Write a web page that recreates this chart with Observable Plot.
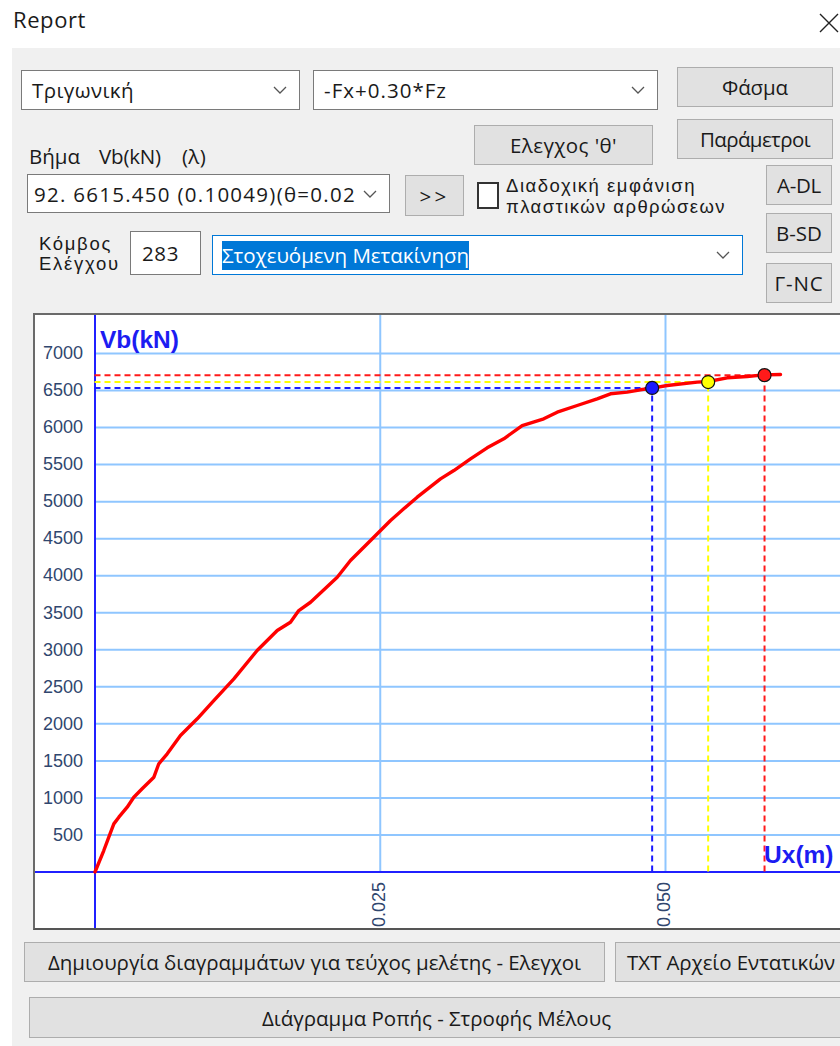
<!DOCTYPE html>
<html><head><meta charset="utf-8">
<script src="https://cdn.jsdelivr.net/npm/d3@7"></script>
<script src="https://cdn.jsdelivr.net/npm/@observablehq/plot@0.6"></script>
<style>
html,body{margin:0;padding:0;width:840px;height:1046px;overflow:hidden;background:#fff;}
body{position:relative;font-family:"Open Sans","Noto Sans",sans-serif;color:#1a1a1a;font-size:20.5px;}
.a{position:absolute;box-sizing:border-box;white-space:nowrap;}
.panel{left:12px;top:48px;width:840px;height:1000px;background:#f0f0f0;}
.combo{background:#fff;border:1px solid #7a7a7a;display:flex;align-items:center;padding-left:9px;}
.combo svg{position:absolute;right:12px;top:50%;margin-top:-4px;}
.btn{background:#e1e1e1;border:1px solid #adadad;display:flex;align-items:center;justify-content:center;}
.lbl{line-height:21px;}
.lbl2{font-family:"Liberation Sans",Arial,sans-serif;font-size:18.5px;line-height:20px;}
#chart{left:33px;top:313px;width:812px;height:617px;background:#fff;border-left:2px solid #6a6a6a;border-top:2px solid #6a6a6a;border-bottom:2px solid #555;}
#chart svg{display:block;}
</style></head>
<body>
<div class="a" style="left:13px;top:4px;font-size:22px;"><span data-w="73">Report</span></div>
<svg class="a" style="left:818px;top:12px" width="22" height="22"><path d="M2,2L20,20M20,2L2,20" stroke="#222" stroke-width="1.4"/></svg>
<div class="a panel"></div>

<div class="a combo" style="left:21px;top:70px;width:279px;height:40px;padding-left:10px;"><span data-w="102">Τριγωνική</span><svg width="14" height="9"><polyline points="1,1 7,7 13,1" fill="none" stroke="#555" stroke-width="1.3"/></svg></div>
<div class="a combo" style="left:313px;top:70px;width:345px;height:40px;padding-left:10px;"><span data-w="123">-Fx+0.30*Fz</span><svg width="14" height="9"><polyline points="1,1 7,7 13,1" fill="none" stroke="#555" stroke-width="1.3"/></svg></div>
<div class="a btn" style="left:677px;top:67px;width:156px;height:40px;"><span data-w="66">Φάσμα</span></div>
<div class="a btn" style="left:677px;top:119px;width:156px;height:40px;"><span data-w="110">Παράμετροι</span></div>
<div class="a btn" style="left:474px;top:125px;width:179px;height:40px;"><span data-w="107">Ελεγχος 'θ'</span></div>
<div class="a btn" style="left:766px;top:165px;width:66px;height:40px;"><span data-w="44">A-DL</span></div>
<div class="a btn" style="left:766px;top:213px;width:66px;height:40px;"><span data-w="46">B-SD</span></div>
<div class="a btn" style="left:766px;top:263px;width:66px;height:40px;"><span data-w="49">Γ-NC</span></div>

<div class="a lbl" style="left:29px;top:146px;"><span data-w="51">Βήμα</span></div>
<div class="a lbl" style="left:99px;top:146px;"><span data-w="62">Vb(kN)</span></div>
<div class="a lbl" style="left:182px;top:146px;"><span data-w="24">(λ)</span></div>
<div class="a combo" style="left:27px;top:174px;width:363px;height:39px;padding-left:6px;"><span data-w="322">92. 6615.450 (0.10049)(θ=0.02</span><svg width="14" height="9"><polyline points="1,1 7,7 13,1" fill="none" stroke="#555" stroke-width="1.3"/></svg></div>
<div class="a btn" style="left:405px;top:175px;width:59px;height:41px;"><span data-w="30">&gt;&gt;</span></div>
<div class="a" style="left:477px;top:182px;width:22px;height:27px;background:#fff;border:2px solid #333;"></div>
<div class="a lbl2" style="left:506px;top:176px;"><span data-w="190">Διαδοχική εμφάνιση</span></div>
<div class="a lbl2" style="left:506px;top:197px;"><span data-w="220">πλαστικών αρθρώσεων</span></div>

<div class="a lbl2" style="left:39px;top:233.5px;"><span data-w="73">Κόμβος</span></div>
<div class="a lbl2" style="left:39px;top:254.2px;"><span data-w="81">Ελέγχου</span></div>
<div class="a combo" style="left:130px;top:231px;width:71px;height:44px;padding-left:11px;"><span data-w="37">283</span></div>
<div class="a combo" style="left:212px;top:235px;width:531px;height:40px;border-color:#0078d7;padding-left:9px;"><span data-w="247" style="background:#0078d7;color:#fff;line-height:29px;">Στοχευόμενη Μετακίνηση</span><svg width="14" height="9"><polyline points="1,1 7,7 13,1" fill="none" stroke="#555" stroke-width="1.3"/></svg></div>

<div class="a" id="chart"></div>

<div class="a btn" style="left:24px;top:942px;width:581px;height:40px;"><span data-w="533">Δημιουργία διαγραμμάτων για τεύχος μελέτης - Ελεγχοι</span></div>
<div class="a btn" style="left:615px;top:942px;width:236px;height:40px;justify-content:flex-start;padding-left:11px;"><span data-w="208">TXT Αρχείο Εντατικών</span></div>
<div class="a btn" style="left:29px;top:997px;width:815px;height:41px;"><span data-w="349">Διάγραμμα Ροπής - Στροφής Μέλους</span></div>

<script>
// Capacity curve: top displacement Ux (m) vs base shear Vb (kN)
const ux = [0, 0.00077, 0.00121, 0.00165, 0.00209, 0.00282, 0.0034, 0.00413, 0.00516, 0.00559, 0.00633, 0.00749, 0.00896, 0.01041, 0.01217, 0.01421, 0.01597, 0.01713, 0.01786, 0.01889, 0.02123, 0.02239, 0.02415, 0.0259, 0.02706, 0.02824, 0.03028, 0.03145, 0.03291, 0.03437, 0.03583, 0.03744, 0.03933, 0.04051, 0.04226, 0.04401, 0.04518, 0.04664, 0.04781, 0.04883, 0.05015, 0.05278, 0.05374, 0.05541, 0.05716, 0.05868, 0.06008];
const vb = [0, 290, 470, 650, 740, 875, 1010, 1123, 1280, 1461, 1596, 1843, 2068, 2315, 2608, 2990, 3260, 3372, 3530, 3642, 3980, 4205, 4476, 4746, 4903, 5060, 5308, 5420, 5578, 5727, 5849, 6028, 6118, 6208, 6298, 6388, 6456, 6478, 6510, 6532, 6568, 6613, 6622, 6672, 6690, 6712, 6717];
// Marked points (performance levels)
const markUx = [0.04883, 0.05374, 0.05868];
const markVb = [6535, 6615, 6708];
const markColor = ["#1a1aff", "#ffff00", "#ff1a1a"];
// Ticks
const yTicks = [500, 1000, 1500, 2000, 2500, 3000, 3500, 4000, 4500, 5000, 5500, 6000, 6500, 7000];
const xTicks = [0.025, 0.050];
const xTickLabels = ["0.025", "0.050"];
const yTitle = "Vb(kN)";
const xTitle = "Ux(m)";

// fit UI label widths to the reference
document.querySelectorAll("[data-w]").forEach(el => {
  const w = el.getBoundingClientRect().width;
  const n = el.textContent.length;
  el.style.letterSpacing = ((+el.dataset.w - w) / n).toFixed(2) + "px";
});

const curve = ux.map((x, i) => ({x, y: vb[i]}));
const marks = markUx.map((x, i) => ({x, y: markVb[i], c: markColor[i]}));
const xt = xTicks.map((v, i) => ({v, t: xTickLabels[i]}));

const W = 810, H = 613;
const X0 = -0.005215, X1 = 0.065776, Y0 = -762.8, Y1 = 7513.2;
const grid = "#8fc6ff", axisC = "#2020ff";
const tickFont = {fontFamily: "Liberation Sans, Arial, sans-serif", fontSize: 18, fill: "#30466e"};

const chart = Plot.plot({
  width: W, height: H,
  marginTop: 0, marginRight: 0, marginBottom: 0, marginLeft: 0,
  x: {domain: [X0, X1], axis: null},
  y: {domain: [Y0, Y1], axis: null},
  style: {background: "white", overflow: "hidden"},
  marks: [
    Plot.ruleY(yTicks, {x1: 0, x2: X1, stroke: grid, strokeWidth: 2}),
    Plot.ruleX(xTicks, {y1: 0, y2: Y1, stroke: grid, strokeWidth: 2}),
    Plot.ruleX([0], {stroke: axisC, strokeWidth: 2}),
    Plot.ruleY([0], {stroke: axisC, strokeWidth: 2}),
    Plot.ruleY(marks, {y: "y", x1: 0, x2: "x", stroke: "c", strokeWidth: 2, strokeDasharray: "6,4"}),
    Plot.ruleX(marks, {x: "x", y1: 0, y2: "y", stroke: "c", strokeWidth: 2, strokeDasharray: "6,4"}),
    Plot.line(curve, {x: "x", y: "y", stroke: "#ff0000", strokeWidth: 3.4}),
    Plot.dot(marks, {x: "x", y: "y", r: 6.5, fill: "c", stroke: "#111", strokeWidth: 1.2}),
    Plot.text(yTicks, {x: 0, y: d => d, text: d => String(d), dx: -12, textAnchor: "end", lineAnchor: "middle", ...tickFont}),
    Plot.text(xt, {x: "v", y: 0, text: "t", rotate: -90, dy: 10, dx: -1, textAnchor: "end", lineAnchor: "middle", ...tickFont}),
    Plot.text([yTitle], {x: 0, y: 7000, text: d => d, dx: 5, dy: -6, textAnchor: "start", lineAnchor: "bottom", fontFamily: "Liberation Sans, Arial, sans-serif", fontWeight: "bold", fontSize: 24.5, fill: "#1c1cf2"}),
    Plot.text([xTitle], {x: X1, y: 0, text: d => d, dx: -12, dy: -9, textAnchor: "end", lineAnchor: "bottom", fontFamily: "Liberation Sans, Arial, sans-serif", fontWeight: "bold", fontSize: 24.5, fill: "#1c1cf2"})
  ]
});
document.getElementById("chart").appendChild(chart);
</script>
</body></html>
